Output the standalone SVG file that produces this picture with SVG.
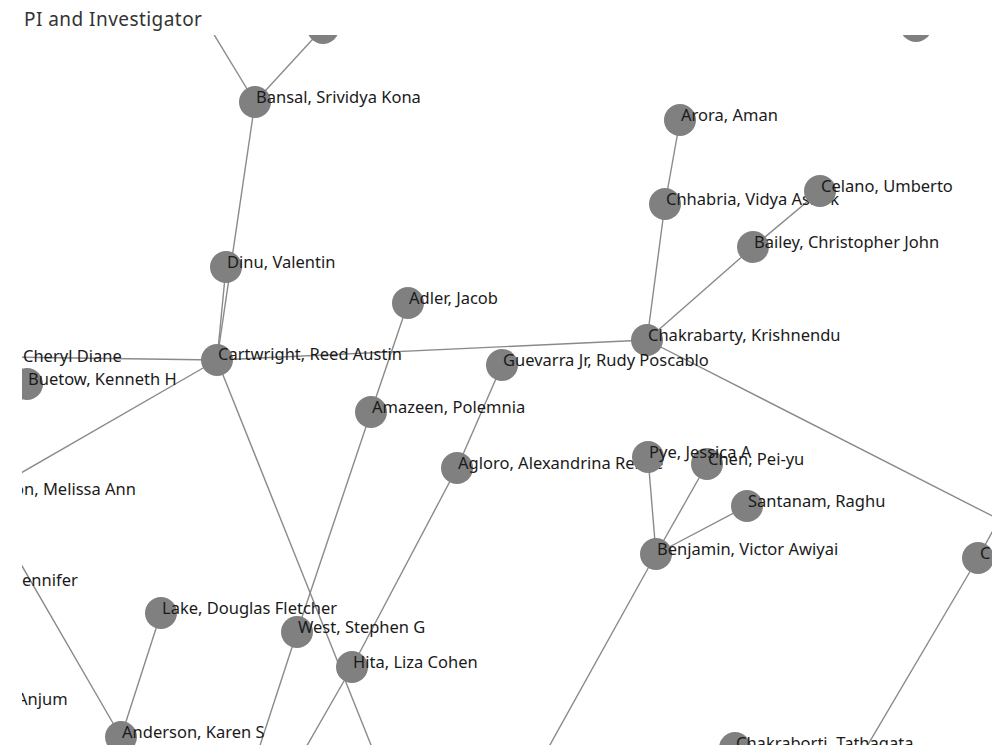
<svg xmlns="http://www.w3.org/2000/svg" width="994" height="752" viewBox="0 0 994 752">
<defs>
<clipPath id="plot"><rect x="22" y="35" width="970" height="710"/></clipPath>
<style>
.title{font-family:"Noto Sans","DejaVu Sans",sans-serif;font-size:19px;letter-spacing:0.45px;fill:#333333}
.n circle{fill:#808080}
.n text,.lbl{font-family:"Noto Sans","DejaVu Sans",sans-serif;font-size:16.5px;fill:#1a1a1a}
.e line{stroke:#8a8a8a;stroke-width:1.4}
</style>
</defs>
<rect x="0" y="0" width="994" height="752" fill="#ffffff"/>
<text class="title" x="24" y="26">PI and Investigator</text>
<g clip-path="url(#plot)">
<g id="connectors" class="e">
<line x1="255" y1="102" x2="193" y2="0"/>
<line x1="255" y1="102" x2="323" y2="28"/>
<line x1="255" y1="102" x2="217" y2="360"/>
<line x1="226" y1="267" x2="217" y2="360"/>
<line x1="217" y1="360" x2="647" y2="340"/>
<line x1="217" y1="360" x2="0" y2="357"/>
<line x1="217" y1="360" x2="0" y2="485"/>
<line x1="217" y1="360" x2="381" y2="770"/>
<line x1="408" y1="303" x2="371" y2="412"/>
<line x1="371" y1="412" x2="297" y2="632"/>
<line x1="297" y1="632" x2="252" y2="770"/>
<line x1="502" y1="365" x2="457" y2="468"/>
<line x1="457" y1="468" x2="352" y2="667"/>
<line x1="352" y1="667" x2="293" y2="770"/>
<line x1="161" y1="613" x2="121" y2="737"/>
<line x1="121" y1="737" x2="0" y2="528"/>
<line x1="647" y1="340" x2="665" y2="204"/>
<line x1="665" y1="204" x2="680" y2="120"/>
<line x1="647" y1="340" x2="753" y2="247"/>
<line x1="753" y1="247" x2="820" y2="191"/>
<line x1="647" y1="340" x2="1010" y2="525"/>
<line x1="656" y1="554" x2="648" y2="457"/>
<line x1="656" y1="554" x2="707" y2="464"/>
<line x1="656" y1="554" x2="747" y2="506"/>
<line x1="656" y1="554" x2="536" y2="770"/>
<line x1="978" y1="558" x2="1003" y2="512"/>
<line x1="978" y1="558" x2="853" y2="770"/>
</g>
<text class="lbl" x="23" y="362">Cheryl Diane</text>
<text class="lbl" x="14" y="495">on, Melissa Ann</text>
<text class="lbl" x="22" y="586">ennifer</text>
<text class="lbl" x="17" y="705">Anjum</text>
<g id="n-top" class="n"><circle cx="323" cy="28" r="16"/></g>
<g id="n-topright" class="n"><circle cx="916" cy="26" r="16"/></g>
<g id="n-bansal" class="n"><circle cx="255" cy="102" r="16"/><text x="256" y="103">Bansal, Srividya Kona</text></g>
<g id="n-arora" class="n"><circle cx="680" cy="120" r="16"/><text x="681" y="121">Arora, Aman</text></g>
<g id="n-chhabria" class="n"><circle cx="665" cy="204" r="16"/><text x="666" y="205">Chhabria, Vidya Ashok</text></g>
<g id="n-celano" class="n"><circle cx="820" cy="191" r="16"/><text x="821" y="192">Celano, Umberto</text></g>
<g id="n-bailey" class="n"><circle cx="753" cy="247" r="16"/><text x="754" y="248">Bailey, Christopher John</text></g>
<g id="n-dinu" class="n"><circle cx="226" cy="267" r="16"/><text x="227" y="268">Dinu, Valentin</text></g>
<g id="n-adler" class="n"><circle cx="408" cy="303" r="16"/><text x="409" y="304">Adler, Jacob</text></g>
<g id="n-cartwright" class="n"><circle cx="217" cy="360" r="16"/><text x="218" y="360">Cartwright, Reed Austin</text></g>
<g id="n-chakrabarty" class="n"><circle cx="647" cy="340" r="16"/><text x="648" y="341">Chakrabarty, Krishnendu</text></g>
<g id="n-guevarra" class="n"><circle cx="502" cy="365" r="16"/><text x="503" y="366">Guevarra Jr, Rudy Poscablo</text></g>
<g id="n-buetow" class="n"><circle cx="27" cy="384" r="16"/><text x="28" y="385">Buetow, Kenneth H</text></g>
<g id="n-amazeen" class="n"><circle cx="371" cy="412" r="16"/><text x="372" y="413">Amazeen, Polemnia</text></g>
<g id="n-agloro" class="n"><circle cx="457" cy="468" r="16"/><text x="458" y="469">Agloro, Alexandrina Renee</text></g>
<g id="n-chen" class="n"><circle cx="707" cy="464" r="16"/><text x="708" y="465">Chen, Pei-yu</text></g>
<g id="n-pye" class="n"><circle cx="648" cy="457" r="16"/><text x="649" y="458">Pye, Jessica A</text></g>
<g id="n-santanam" class="n"><circle cx="747" cy="506" r="16"/><text x="748" y="507">Santanam, Raghu</text></g>
<g id="n-benjamin" class="n"><circle cx="656" cy="554" r="16"/><text x="657" y="555">Benjamin, Victor Awiyai</text></g>
<g id="n-right" class="n"><circle cx="978" cy="558" r="16"/><text x="980" y="559">C</text></g>
<g id="n-lake" class="n"><circle cx="161" cy="613" r="16"/><text x="162" y="614">Lake, Douglas Fletcher</text></g>
<g id="n-west" class="n"><circle cx="297" cy="632" r="16"/><text x="298" y="633">West, Stephen G</text></g>
<g id="n-hita" class="n"><circle cx="352" cy="667" r="16"/><text x="353" y="668">Hita, Liza Cohen</text></g>
<g id="n-anderson" class="n"><circle cx="121" cy="737" r="16"/><text x="122" y="738">Anderson, Karen S</text></g>
<g id="n-chakraborti" class="n"><circle cx="735" cy="748" r="16"/><text x="736" y="749">Chakraborti, Tathagata</text></g>
</g>
</svg>
